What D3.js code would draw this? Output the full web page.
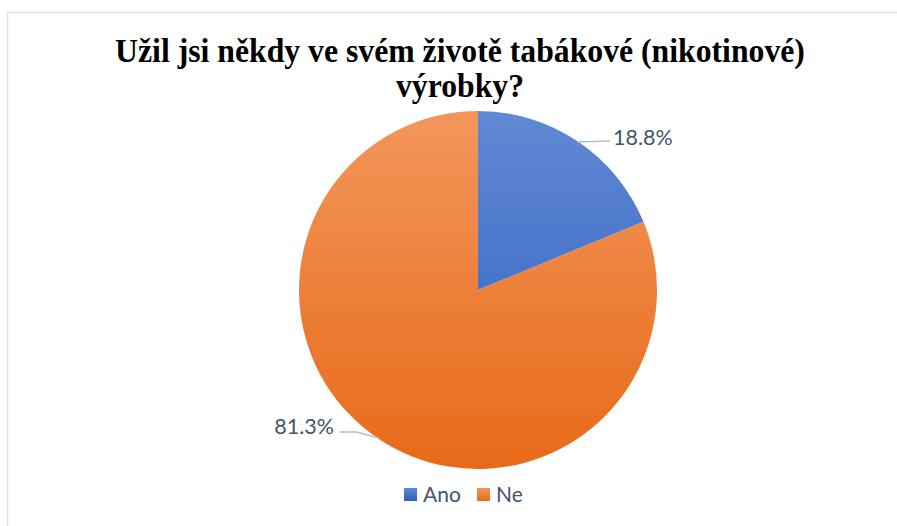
<!DOCTYPE html>
<html>
<head>
<meta charset="utf-8">
<script src="https://cdn.jsdelivr.net/npm/d3@7"></script>
<style>
  body { margin: 0; background: #fff; }
  svg { display: block; }
</style>
</head>
<body>
<svg id="chart" width="897" height="526"></svg>
<script>
// chart data
var categories = ["Ano", "Ne"];
var values = [18.8, 81.3];
var titleLines = ["Užil jsi někdy ve svém životě tabákové (nikotinové)", "výrobky?"];

var width = 897, height = 526;
var cx = 478, cy = 290, radius = 179;
var labelFont = "Lato, 'Open Sans', sans-serif";

var svg = d3.select("#chart");

// light frame, cut by the window on the right and bottom
svg.append("rect")
  .attr("x", 7.5).attr("y", 12.5)
  .attr("width", 1000).attr("height", 1000)
  .attr("fill", "#fff")
  .attr("stroke", "#dfe2e8")
  .attr("stroke-width", 1.5);

var defs = svg.append("defs");
var gradColors = [
  ["#6189d4", "#2b5fc0"],
  ["#f3965c", "#e86a18"]
];
gradColors.forEach(function (c, i) {
  var g = defs.append("linearGradient")
    .attr("id", "grad" + i)
    .attr("gradientUnits", "userSpaceOnUse")
    .attr("x1", 0).attr("y1", -radius)
    .attr("x2", 0).attr("y2", radius);
  g.append("stop").attr("offset", "0%").attr("stop-color", c[0]);
  g.append("stop").attr("offset", "100%").attr("stop-color", c[1]);
  var lg = defs.append("linearGradient")
    .attr("id", "legGrad" + i)
    .attr("x1", 0).attr("y1", 0).attr("x2", 0).attr("y2", 1);
  lg.append("stop").attr("offset", "0%").attr("stop-color", c[0]);
  lg.append("stop").attr("offset", "100%").attr("stop-color", c[1]);
});

// title (condensed bold serif)
var titleG = svg.append("g");
var title = titleG.append("text")
  .attr("text-anchor", "middle")
  .attr("font-family", "'Liberation Serif', 'Times New Roman', serif")
  .attr("font-weight", "bold")
  .attr("font-size", 34)
  .attr("fill", "#000");
title.selectAll("tspan")
  .data(titleLines)
  .enter().append("tspan")
  .attr("x", 0)
  .attr("y", function (d, i) { return 62 + i * 35; })
  .text(function (d) { return d; });
var firstW = title.select("tspan").node().getComputedTextLength();
var sx = 690 / firstW;
titleG.attr("transform", "translate(460,0) scale(" + sx + ",1)");

// pie
var pie = d3.pie().sort(null).value(function (d) { return d; });
var arcs = pie(values);
var arc = d3.arc().innerRadius(0).outerRadius(radius);

var g = svg.append("g").attr("transform", "translate(" + cx + "," + cy + ")");
g.selectAll("path.slice")
  .data(arcs)
  .enter().append("path")
  .attr("class", "slice")
  .attr("d", arc)
  .attr("fill", function (d, i) { return "url(#grad" + i + ")"; });

// data labels with leader lines from the slice's mid angle
var labelFmt = function (v) { return d3.format(".1f")(v) + "%"; };
var labelPos = [
  { tx: 613, ty: 145, anchor: "start", bend: [610, 141], end: [610, 141] },
  { tx: 334, ty: 434, anchor: "end", bend: [356, 432], end: [339, 432] }
];

arcs.forEach(function (d, i) {
  var mid = (d.startAngle + d.endAngle) / 2;
  var p = labelPos[i];
  var sx0 = cx + Math.sin(mid) * (radius - 1);
  var sy0 = cy - Math.cos(mid) * (radius - 1);
  svg.append("path")
    .attr("d", d3.line()([[sx0, sy0], p.bend, p.end]))
    .attr("fill", "none")
    .attr("stroke", "#b4bfcc")
    .attr("stroke-width", 1.5);
  svg.append("text")
    .attr("x", p.tx).attr("y", p.ty)
    .attr("text-anchor", p.anchor)
    .attr("font-family", labelFont)
    .attr("font-size", 21.5)
    .attr("fill", "#44546a")
    .text(labelFmt(values[i]));
});

// legend
var legendX = [404, 477];
var legend = svg.append("g");
categories.forEach(function (c, i) {
  legend.append("rect")
    .attr("x", legendX[i]).attr("y", 488)
    .attr("width", 13).attr("height", 13)
    .attr("fill", "url(#legGrad" + i + ")");
  legend.append("text")
    .attr("x", legendX[i] + 19).attr("y", 502)
    .attr("font-family", labelFont)
    .attr("font-size", 21)
    .attr("fill", "#44546a")
    .text(c);
});
</script>
</body>
</html>
